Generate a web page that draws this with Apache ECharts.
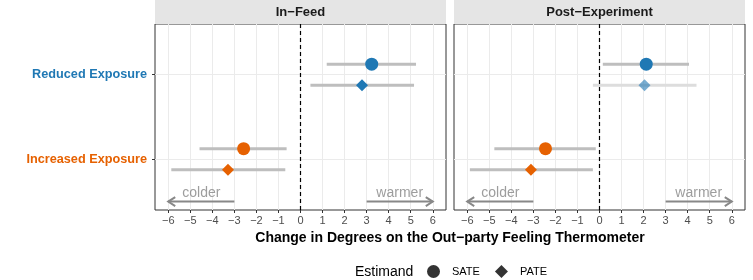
<!DOCTYPE html>
<html><head><meta charset="utf-8">
<script src="https://cdn.jsdelivr.net/npm/echarts@6/dist/echarts.min.js"></script>
<style>html,body{margin:0;padding:0;background:#fff}#c{width:753px;height:280px}</style>
</head><body><div id="c"></div>
<script>
// ---- data ----
const panels = ['In\u2212Feed', 'Post\u2212Experiment'];
const categories = ['Increased Exposure', 'Reduced Exposure']; // y = 1, 2
const categoryY = [1, 2];
const xTicks = [-6, -5, -4, -3, -2, -1, 0, 1, 2, 3, 4, 5, 6];
const estimands = ['SATE', 'PATE'];

// In-Feed panel: [Increased, Reduced]
const inFeedSateEst = [-2.58, 3.23];
const inFeedSateLo  = [-4.58, 1.19];
const inFeedSateHi  = [-0.63, 5.24];
const inFeedPateEst = [-3.29, 2.79];
const inFeedPateLo  = [-5.86, 0.45];
const inFeedPateHi  = [-0.69, 5.15];
// Post-Experiment panel
const postSateEst = [-2.45, 2.12];
const postSateLo  = [-4.77, 0.15];
const postSateHi  = [-0.17, 4.06];
const postPateEst = [-3.11, 2.04];
const postPateLo  = [-5.88, -0.30];
const postPateHi  = [-0.30, 4.40];

// direction arrows
const arrowLabels = ['colder', 'warmer'];
const arrowFrom = [-3, 3];
const arrowTo = [-6, 6];
const arrowLabelX = [-4.5, 4.5];
const arrowY = 0.5;
const arrowLabelY = 0.6;

// ---- styling ----
const FONT = "'Liberation Sans', Arial, Helvetica, sans-serif";
const catColors = ['#e66101', '#1f78b4'];
const dodge = { SATE: 0.125, PATE: -0.125 };
const symbols = { SATE: 'circle', PATE: 'diamond' };
const symSizes = { SATE: 13, PATE: 12 };

const panelData = [
  { SATE: [inFeedSateEst, inFeedSateLo, inFeedSateHi], PATE: [inFeedPateEst, inFeedPateLo, inFeedPateHi] },
  { SATE: [postSateEst, postSateLo, postSateHi], PATE: [postPateEst, postPateLo, postPateHi] }
];

const gridLeft = [155, 454];
const gridW = 291, gridTop = 24, gridH = 186;

const chart = echarts.init(document.getElementById('c'), null, { renderer: 'canvas' });

const grids = [], xAxes = [], yAxes = [], series = [];
panels.forEach((p, i) => {
  grids.push({ left: gridLeft[i], top: gridTop, width: gridW, height: gridH, show: true,
    borderColor: '#333333', borderWidth: 1, backgroundColor: '#fff', containLabel: false });
  xAxes.push({ type: 'value', gridIndex: i, min: -6.6, max: 6.6, position: 'bottom',
    axisLine: { show: false, onZero: false },
    axisTick: { show: true, length: 3, customValues: xTicks, lineStyle: { color: '#333', width: 1 } },
    axisLabel: { customValues: xTicks, margin: 5, fontSize: 11, color: '#4d4d4d', fontFamily: FONT,
      formatter: v => (v < 0 ? '\u2212' + Math.abs(v) : String(v)) },
    splitLine: { show: true, lineStyle: { color: '#ebebeb', width: 1 } }
  });
  yAxes.push({ type: 'value', gridIndex: i, min: 0.4, max: 2.6, position: 'left',
    axisLine: { show: false, onZero: false },
    axisTick: { show: i === 0, length: 3, customValues: categoryY, lineStyle: { color: '#333', width: 1 } },
    axisLabel: { show: i === 0, customValues: categoryY, margin: 8, fontFamily: FONT,
      formatter: v => { const k = categoryY.indexOf(v); return k < 0 ? '' : '{c' + k + '|' + categories[k] + '}'; },
      rich: { c0: { color: catColors[0], fontWeight: 'bold', fontSize: 12.7, fontFamily: FONT },
              c1: { color: catColors[1], fontWeight: 'bold', fontSize: 12.7, fontFamily: FONT } } },
    splitLine: { show: true, lineStyle: { color: '#ebebeb', width: 1 } }
  });

  // zero line
  series.push({ type: 'custom', xAxisIndex: i, yAxisIndex: i, data: [], renderItem: () => null, z: 3,
    markLine: { silent: true, symbol: 'none', label: { show: false },
      lineStyle: { color: '#000', type: [4, 3], width: 1.2 }, data: [{ xAxis: 0 }] } });

  // error bars and points
  estimands.forEach(est => {
    const [e, lo, hi] = panelData[i][est];
    const barData = categoryY.map((y, k) => {
      const sig = !(lo[k] < 0 && hi[k] > 0);
      return { value: [y + dodge[est], lo[k], hi[k]], sig };
    });
    series.push({ type: 'custom', xAxisIndex: i, yAxisIndex: i, z: 4, silent: true,
      encode: { x: [1, 2], y: 0 },
      data: barData,
      renderItem: (params, api) => {
        const a = api.coord([api.value(1), api.value(0)]);
        const b = api.coord([api.value(2), api.value(0)]);
        const sig = barData[params.dataIndex].sig;
        return { type: 'line', shape: { x1: a[0], y1: a[1], x2: b[0], y2: b[1] },
          style: { stroke: sig ? '#bebebe' : '#dddddd', lineWidth: 3 } };
      } });
    series.push({ type: 'scatter', name: est, xAxisIndex: i, yAxisIndex: i, z: 5,
      symbol: symbols[est], symbolSize: symSizes[est],
      itemStyle: { color: '#000' },
      data: categoryY.map((y, k) => {
        const sig = !(lo[k] < 0 && hi[k] > 0);
        return { value: [e[k], y + dodge[est]], itemStyle: { color: catColors[k], opacity: sig ? 1 : 0.6 } };
      }) });
  });

  // arrows
  series.push({ type: 'custom', xAxisIndex: i, yAxisIndex: i, z: 4, silent: true,
    encode: { x: [0, 1], y: 2 },
    data: arrowFrom.map((f, k) => [f, arrowTo[k], arrowY]),
    renderItem: (params, api) => {
      const a = api.coord([api.value(0), api.value(2)]);
      const b = api.coord([api.value(1), api.value(2)]);
      const dir = b[0] > a[0] ? 1 : -1;
      const hl = 7, hw = 4.5;
      return { type: 'group', children: [
        { type: 'line', shape: { x1: a[0], y1: a[1], x2: b[0], y2: b[1] }, style: { stroke: '#888888', lineWidth: 2 } },
        { type: 'polyline', shape: { points: [[b[0] - dir * hl, b[1] - hw], [b[0], b[1]], [b[0] - dir * hl, b[1] + hw]] },
          style: { stroke: '#888888', lineWidth: 2, fill: null, lineJoin: 'miter' } }
      ] };
    } });
  series.push({ type: 'scatter', xAxisIndex: i, yAxisIndex: i, z: 4, silent: true, symbolSize: 0,
    data: arrowLabelX.map((x, k) => ({ value: [x, arrowLabelY], name: arrowLabels[k] })),
    label: { show: true, position: 'inside', formatter: p => p.name, fontSize: 14, color: '#858585', fontFamily: FONT } });
});

const option = {
  animation: false,
  backgroundColor: '#fff',
  textStyle: { fontFamily: FONT },
  grid: grids, xAxis: xAxes, yAxis: yAxes, series,
  legend: { left: 427, top: 265, padding: 0, itemWidth: 13, itemHeight: 13, itemGap: 15,
    data: [{ name: 'SATE', icon: 'circle', itemStyle: { color: '#000' } },
           { name: 'PATE', icon: 'diamond', itemStyle: { color: '#000' } }],
    textStyle: { fontSize: 11, color: '#000', fontFamily: FONT, padding: [0, 0, 0, 7] } },
  graphic: [
    { type: 'rect', shape: { x: 155, y: 0, width: 291, height: 24 }, style: { fill: '#e5e5e5' }, silent: true },
    { type: 'rect', shape: { x: 454, y: 0, width: 291, height: 24 }, style: { fill: '#e5e5e5' }, silent: true },
    { type: 'text', x: 300.5, y: 12, style: { text: panels[0], font: "bold 13px " + FONT, fill: '#1a1a1a', textAlign: 'center', textVerticalAlign: 'middle' } },
    { type: 'text', x: 599.5, y: 12, style: { text: panels[1], font: "bold 13px " + FONT, fill: '#1a1a1a', textAlign: 'center', textVerticalAlign: 'middle' } },
    { type: 'text', x: 450, y: 238, style: { text: 'Change in Degrees on the Out\u2212party Feeling Thermometer', font: "bold 14px " + FONT, fill: '#000', textAlign: 'center', textVerticalAlign: 'middle' } },
    { type: 'text', x: 355, y: 272, style: { text: 'Estimand', font: "14px " + FONT, fill: '#000', textAlign: 'left', textVerticalAlign: 'middle' } }
  ]
};
chart.setOption(option);
</script></body></html>
